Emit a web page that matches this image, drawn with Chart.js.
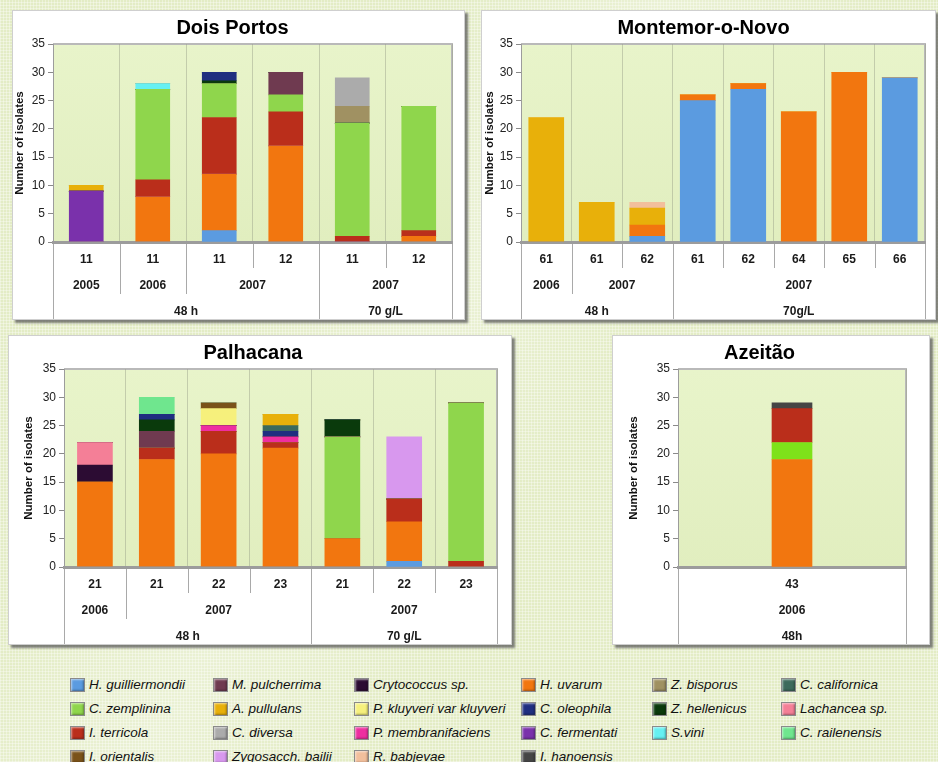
<!DOCTYPE html>
<html>
<head>
<meta charset="utf-8">
<script src="https://cdn.jsdelivr.net/npm/chart.js@4.4.0/dist/chart.umd.min.js"></script>
<style>
  body {
    margin: 0; width: 938px; height: 762px; overflow: hidden; position: relative;
    font-family: "Liberation Sans", Arial, sans-serif;
    background-color: #e3ecc5;
    background-image:
      linear-gradient(125deg, rgba(255,255,255,0) 30%, rgba(255,255,255,0.25) 45%, rgba(255,255,255,0) 60%),
      repeating-linear-gradient(0deg, rgba(255,255,255,0.35) 0 1px, rgba(255,255,255,0) 1px 3px),
      repeating-linear-gradient(90deg, rgba(255,255,255,0.35) 0 1px, rgba(255,255,255,0) 1px 3px);
  }
  .panel {
    position: absolute; background: #fff; box-sizing: border-box;
    border: 1px solid #cfcfcf; box-shadow: 3px 3px 2px rgba(90,90,90,0.75);
  }
  .panel canvas { position: absolute; left: 0; top: 0; }
  .leg { position: absolute; height: 16px; line-height: 16px; font-size: 13.5px; font-style: italic; color: #111; white-space: nowrap; }
  .leg i {
    position: absolute; left: 0; top: 1px; width: 13px; height: 12px; border: 1px solid #8a8a8a;
    box-shadow: inset 1px 1px 2px rgba(255,255,255,0.55), inset -1px -1px 2px rgba(0,0,0,0.35);
  }
</style>
</head>
<body>
<div class="panel" style="left:12px;top:10px;width:453px;height:310px"><canvas id="c-dp" width="451" height="308"></canvas></div>
<div class="panel" style="left:481px;top:10px;width:455px;height:310px"><canvas id="c-mn" width="453" height="308"></canvas></div>
<div class="panel" style="left:8px;top:335px;width:504px;height:310px"><canvas id="c-pa" width="502" height="308"></canvas></div>
<div class="panel" style="left:612px;top:335px;width:318px;height:310px"><canvas id="c-az" width="316" height="308"></canvas></div>
<div id="legend"></div>

<script>
const FONT = '"Liberation Sans", Arial, sans-serif';

// species, in legend order (row by row)
const speciesNames = [
  'H. guilliermondii', 'M. pulcherrima', 'Crytococcus sp.', 'H. uvarum', 'Z. bisporus', 'C. californica',
  'C. zemplinina', 'A. pullulans', 'P. kluyveri var kluyveri', 'C. oleophila', 'Z. hellenicus', 'Lachancea sp.',
  'I. terricola', 'C. diversa', 'P. membranifaciens', 'C. fermentati', 'S.vini', 'C. railenensis',
  'I. orientalis', 'Zygosacch. bailii', 'R. babjevae', 'I. hanoensis'
];
const speciesColors = [
  '#5b9be0', '#6f3a50', '#2c0c33', '#f2760f', '#a09162', '#3c6a5c',
  '#8fd64c', '#e8b00a', '#f6f07c', '#1f2e80', '#0a3a0c', '#f47f97',
  '#ba2e1b', '#ababab', '#ee2ea0', '#7a31ab', '#66f0f2', '#6fe68e',
  '#7a5219', '#d898ee', '#f2bf9c', '#454545'
];

// Dois Portos
const dpLabels = ['11', '11', '11', '12', '11', '12'];
const dpYears = [['2005', 1], ['2006', 1], ['2007', 2], ['2007', 2]];
const dpConditions = [['48 h', 4], ['70 g/L', 2]];
const dpSeries = {
  'H. guilliermondii': [0, 0, 2, 0, 0, 0],
  'H. uvarum':         [0, 8, 10, 17, 0, 1],
  'C. fermentati':     [9, 0, 0, 0, 0, 0],
  'I. terricola':      [0, 3, 10, 6, 1, 1],
  'C. zemplinina':     [0, 16, 6, 3, 20, 22],
  'M. pulcherrima':    [0, 0, 0, 4, 0, 0],
  'Z. hellenicus':     [0, 0, 0.5, 0, 0, 0],
  'C. oleophila':      [0, 0, 1.5, 0, 0, 0],
  'A. pullulans':      [1, 0, 0, 0, 0, 0],
  'S.vini':            [0, 1, 0, 0, 0, 0],
  'Z. bisporus':       [0, 0, 0, 0, 3, 0],
  'C. diversa':        [0, 0, 0, 0, 5, 0]
};

// Montemor-o-Novo
const mnLabels = ['61', '61', '62', '61', '62', '64', '65', '66'];
const mnYears = [['2006', 1], ['2007', 2], ['2007', 5]];
const mnConditions = [['48 h', 3], ['70g/L', 5]];
const mnSeries = {
  'H. guilliermondii': [0, 0, 1, 25, 27, 0, 0, 29],
  'H. uvarum':         [0, 0, 2, 1, 1, 23, 30, 0],
  'A. pullulans':      [22, 7, 3, 0, 0, 0, 0, 0],
  'R. babjevae':       [0, 0, 1, 0, 0, 0, 0, 0]
};

// Palhacana
const paLabels = ['21', '21', '22', '23', '21', '22', '23'];
const paYears = [['2006', 1], ['2007', 3], ['2007', 3]];
const paConditions = [['48 h', 4], ['70 g/L', 3]];
const paSeries = {
  'H. guilliermondii':        [0, 0, 0, 0, 0, 1, 0],
  'H. uvarum':                [15, 19, 20, 21, 5, 7, 0],
  'I. terricola':             [0, 2, 4, 1, 0, 4, 1],
  'C. zemplinina':            [0, 0, 0, 0, 18, 0, 28],
  'Crytococcus sp.':          [3, 0, 0, 0, 0, 0, 0],
  'Lachancea sp.':            [4, 0, 0, 0, 0, 0, 0],
  'M. pulcherrima':           [0, 3, 0, 0, 0, 0, 0],
  'P. membranifaciens':       [0, 0, 1, 1, 0, 0, 0],
  'Z. hellenicus':            [0, 2, 0, 0, 3, 0, 0],
  'C. oleophila':             [0, 1, 0, 1, 0, 0, 0],
  'C. californica':           [0, 0, 0, 1, 0, 0, 0],
  'A. pullulans':             [0, 0, 0, 2, 0, 0, 0],
  'P. kluyveri var kluyveri': [0, 0, 3, 0, 0, 0, 0],
  'I. orientalis':            [0, 0, 1, 0, 0, 0, 0],
  'C. railenensis':           [0, 3, 0, 0, 0, 0, 0],
  'Zygosacch. bailii':        [0, 0, 0, 0, 0, 11, 0]
};

// Azeitão
const azLabels = ['43'];
const azYears = [['2006', 1]];
const azConditions = [['48h', 1]];
const azSeries = {
  'H. uvarum':     [19],
  'C. zemplinina': [3],
  'I. terricola':  [6],
  'I. hanoensis':  [1]
};
const azColorOverride = { 'C. zemplinina': '#7ee21a' };

// plot background + the category table under the x axis
const panelDecor = {
  id: 'panelDecor',
  beforeDraw(chart) {
    const { ctx, chartArea: a } = chart;
    ctx.save();
    const g = ctx.createLinearGradient(0, a.top, 0, a.bottom);
    g.addColorStop(0, '#e8f4ca');
    g.addColorStop(1, '#e1eebf');
    ctx.fillStyle = g;
    ctx.fillRect(a.left, a.top, a.right - a.left, a.bottom - a.top);
    ctx.strokeStyle = '#b9b9b9';
    ctx.lineWidth = 2;
    ctx.beginPath();
    ctx.moveTo(a.left, a.top);
    ctx.lineTo(a.right, a.top);
    ctx.lineTo(a.right, a.bottom);
    ctx.stroke();
    ctx.restore();
  },
  afterDraw(chart, args, opts) {
    const { ctx, chartArea: a } = chart;
    const x = chart.scales.x;
    const labels = chart.data.labels;
    const n = labels.length;
    const edge = i => (i === 0 ? a.left : i === n ? a.right
      : (x.getPixelForValue(i - 1) + x.getPixelForValue(i)) / 2);

    const bounds = spans => {
      const set = new Set();
      let k = 0;
      spans.forEach(s => { k += s[1]; set.add(k); });
      return set;
    };
    const yearB = bounds(opts.years);
    const condB = bounds(opts.conds);

    ctx.save();
    ctx.strokeStyle = '#a9a9a9';
    ctx.lineWidth = 1;
    for (let k = 0; k <= n; k++) {
      let len = 26;
      if (k === 0 || k === n || condB.has(k)) len = 80;
      else if (yearB.has(k)) len = 52;
      const px = Math.round(edge(k)) + 0.5;
      ctx.beginPath();
      ctx.moveTo(px, a.bottom + 2);
      ctx.lineTo(px, a.bottom + len);
      ctx.stroke();
    }

    ctx.fillStyle = '#1a1a1a';
    ctx.font = 'bold 12px ' + FONT;
    ctx.textAlign = 'center';
    ctx.textBaseline = 'middle';
    labels.forEach((lab, i) => ctx.fillText(lab, x.getPixelForValue(i), a.bottom + 18));

    const drawSpans = (spans, y) => {
      let k = 0;
      spans.forEach(([txt, c]) => {
        const cx = (edge(k) + edge(k + c)) / 2;
        ctx.fillText(txt, cx, y);
        k += c;
      });
    };
    drawSpans(opts.years, a.bottom + 44);
    drawSpans(opts.conds, a.bottom + 70);
    ctx.restore();
  }
};

function buildPanel(id, title, labels, years, conds, series, cfg) {
  const datasets = Object.keys(series).map(name => ({
    label: name,
    data: series[name],
    backgroundColor: (cfg.colors && cfg.colors[name]) || speciesColors[speciesNames.indexOf(name)],
    borderWidth: 0,
    barThickness: cfg.barW,
    stack: 'all'
  }));

  new Chart(document.getElementById(id), {
    type: 'bar',
    data: { labels: labels, datasets: datasets },
    plugins: [panelDecor],
    options: {
      responsive: false,
      animation: false,
      layout: { padding: { left: 0, right: cfg.rightPad, top: 0, bottom: 0 } },
      plugins: {
        legend: { display: false },
        tooltip: { enabled: false },
        title: {
          display: true, text: title, color: '#000',
          font: { size: 20, weight: 'bold', family: FONT },
          padding: { top: 5, bottom: 4 }
        },
        panelDecor: { years: years, conds: conds }
      },
      scales: {
        x: {
          stacked: true,
          ticks: { display: false },
          grid: { color: 'rgba(150,158,135,0.45)', drawTicks: false },
          border: { color: '#9c9c9c', width: 3 },
          afterFit: s => { s.height = 77; }
        },
        y: {
          stacked: true, min: 0, max: 35,
          ticks: { stepSize: 5, color: '#222', padding: 3, font: { size: 12, family: FONT } },
          grid: { drawOnChartArea: false, tickLength: 5, color: '#8a8a8a' },
          border: { color: '#9c9c9c' },
          title: {
            display: true, text: 'Number of isolates', color: '#111',
            font: { size: 11.5, weight: 'bold', family: FONT },
            padding: { top: cfg.titlePad, bottom: 0 }
          },
          afterFit: s => { s.width = cfg.axisW; }
        }
      }
    }
  });
}

buildPanel('c-dp', 'Dois Portos', dpLabels, dpYears, dpConditions, dpSeries,
  { barW: 34, axisW: 40, rightPad: 12, titlePad: 0 });
buildPanel('c-mn', 'Montemor-o-Novo', mnLabels, mnYears, mnConditions, mnSeries,
  { barW: 35, axisW: 39, rightPad: 10, titlePad: 1 });
buildPanel('c-pa', 'Palhacana', paLabels, paYears, paConditions, paSeries,
  { barW: 35, axisW: 55, rightPad: 14, titlePad: 13 });
buildPanel('c-az', 'Azeitão', azLabels, azYears, azConditions, azSeries,
  { barW: 40, axisW: 65, rightPad: 23, titlePad: 14, colors: azColorOverride });

// shared legend, six columns
const legendCols = [70, 213, 354, 521, 652, 781];
const legendRows = [685, 709, 733, 757];
const legendHost = document.getElementById('legend');
speciesNames.forEach((name, i) => {
  const el = document.createElement('div');
  el.className = 'leg';
  el.style.left = legendCols[i % 6] + 'px';
  el.style.top = (legendRows[Math.floor(i / 6)] - 8) + 'px';
  el.style.paddingLeft = '19px';
  el.innerHTML = '<i style="background:' + speciesColors[i] + '"></i>' + name;
  legendHost.appendChild(el);
});
</script>
</body>
</html>
